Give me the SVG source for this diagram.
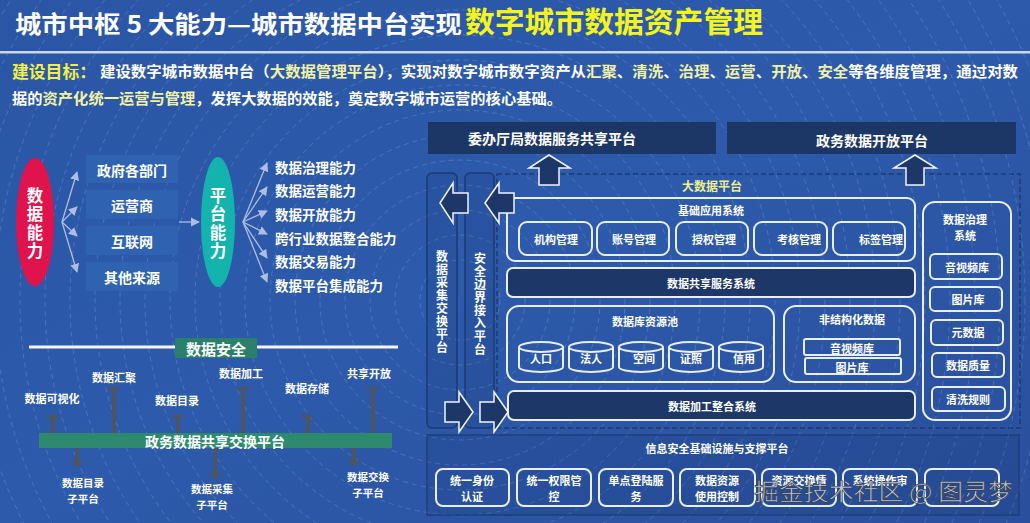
<svg xmlns="http://www.w3.org/2000/svg" width="1030" height="523" viewBox="0 0 1030 523">
<defs>
<linearGradient id="bg" x1="0" y1="0" x2="1" y2="1">
<stop offset="0" stop-color="#2b56a6"/>
<stop offset="0.5" stop-color="#2d5aab"/>
<stop offset="1" stop-color="#2a4f9c"/>
</linearGradient>
<marker id="ah" viewBox="0 0 10 10" refX="9" refY="5" markerWidth="7" markerHeight="7" orient="auto-start-reverse">
<path d="M0,0 L10,5 L0,10 z" fill="#aebde0"/>
</marker>
<style>
text{font-family:"Noto Sans CJK SC","Noto Sans",sans-serif;font-weight:bold;fill:#fff}
.c{text-anchor:middle;dominant-baseline:central}
.v{text-anchor:middle;writing-mode:vertical-rl}
.s14{font-size:14px}
.s13{font-size:13.5px}
.s12{font-size:12px}
.s11{font-size:11px}
.hl{fill:#f2f2a6}
.fan{stroke:#aebde0;stroke-width:1.3;fill:none;marker-end:url(#ah)}
.src{fill:#2f63b2}
.wb{fill:none;stroke:#e8eefa;stroke-width:2}
.navy{fill:#1c3768;stroke:#e8eefa;stroke-width:2}
.col{fill:rgba(20,40,90,0.12);stroke:#1e3a6f;stroke-width:1.5}
.arr{fill:#1c3768;stroke:#f0f4ff;stroke-width:1.5;stroke-linejoin:miter}
.stem{stroke:#4d5563;stroke-width:4}
.cap{fill:#4d5563}
.green{fill:#2d8a6e}
.deco{fill:none;stroke:#ffffff;stroke-opacity:0.2;stroke-width:0.8;stroke-dasharray:5 4}
</style>
</defs>

<rect x="0" y="0" width="1030" height="523" fill="url(#bg)"/>
<g id="decoration">
<circle class="deco" cx="460" cy="300" r="40"/><circle class="deco" cx="460" cy="300" r="65"/><circle class="deco" cx="460" cy="300" r="90"/><circle class="deco" cx="460" cy="300" r="115"/><circle class="deco" cx="460" cy="300" r="140"/><circle class="deco" cx="460" cy="300" r="165"/><circle class="deco" cx="460" cy="300" r="190"/><circle class="deco" cx="460" cy="300" r="215"/><circle class="deco" cx="460" cy="300" r="240"/><circle class="deco" cx="460" cy="300" r="265"/><circle class="deco" cx="460" cy="300" r="290"/><circle class="deco" cx="460" cy="300" r="315"/><circle class="deco" cx="460" cy="300" r="340"/><circle class="deco" cx="460" cy="300" r="365"/><circle class="deco" cx="460" cy="300" r="390"/><circle class="deco" cx="460" cy="300" r="415"/><circle class="deco" cx="460" cy="300" r="440"/><circle class="deco" cx="460" cy="300" r="465"/><circle class="deco" cx="460" cy="300" r="490"/><circle class="deco" cx="460" cy="300" r="515"/><circle class="deco" cx="460" cy="300" r="540"/><circle class="deco" cx="460" cy="300" r="565"/><circle class="deco" cx="460" cy="300" r="590"/><circle class="deco" cx="460" cy="300" r="615"/>
</g>

<g id="title">
<text x="15" y="33" font-size="24" textLength="447" lengthAdjust="spacingAndGlyphs">城市中枢 5 大能力—城市数据中台实现</text>
<text x="465" y="33" font-size="29" textLength="298" lengthAdjust="spacingAndGlyphs" style="fill:#f5f51e">数字城市数据资产管理</text>
<rect x="0" y="51" width="1030" height="2.5" fill="#c9d8f2"/>
</g>

<g id="goal">
<text x="12" y="78" font-size="17" textLength="84" lengthAdjust="spacingAndGlyphs" style="fill:#f0f04a">建设目标：</text>
<text x="100" y="77" font-size="14.5" textLength="918" lengthAdjust="spacingAndGlyphs">建设数字城市数据中台（<tspan class="hl">大数据管理平台</tspan>），实现对数字城市数字资产从<tspan class="hl">汇聚</tspan>、<tspan class="hl">清洗</tspan>、<tspan class="hl">治理</tspan>、<tspan class="hl">运营</tspan>、<tspan class="hl">开放</tspan>、<tspan class="hl">安全</tspan>等各维度管理，通过对数</text>
<text x="12" y="104" font-size="14.5" textLength="550" lengthAdjust="spacingAndGlyphs">据的<tspan class="hl">资产化统一运营与管理</tspan>，发挥大数据的效能，奠定数字城市运营的核心基础。</text>
</g>

<g id="connectors">
<line class="fan" x1="62" y1="222" x2="77" y2="172"/>
<line class="fan" x1="62" y1="222" x2="77" y2="207"/>
<line class="fan" x1="62" y1="222" x2="77" y2="236"/>
<line class="fan" x1="62" y1="222" x2="77" y2="272"/>
<line class="fan" x1="179" y1="222" x2="199" y2="222"/>
<line class="fan" x1="243" y1="222" x2="267" y2="163"/>
<line class="fan" x1="243" y1="222" x2="267" y2="187"/>
<line class="fan" x1="243" y1="222" x2="267" y2="211"/>
<line class="fan" x1="243" y1="222" x2="267" y2="234"/>
<line class="fan" x1="243" y1="222" x2="267" y2="258"/>
<line class="fan" x1="243" y1="222" x2="267" y2="282"/>
</g>

<g id="data-capability">
<ellipse cx="35" cy="222" rx="19" ry="64" fill="#e0134c"/>
<text class="v" x="35" y="224" font-size="16.5" letter-spacing="2">数据能力</text>
</g>
<g id="source-gov"><rect class="src" x="86" y="155" width="92" height="28"/><text class="c s14" x="132" y="170">政府各部门</text></g>
<g id="source-operator"><rect class="src" x="86" y="190" width="92" height="29"/><text class="c s14" x="132" y="205">运营商</text></g>
<g id="source-internet"><rect class="src" x="86" y="226" width="92" height="29"/><text class="c s14" x="132" y="241">互联网</text></g>
<g id="source-other"><rect class="src" x="86" y="262" width="92" height="29"/><text class="c s14" x="132" y="277">其他来源</text></g>

<g id="platform-capability">
<ellipse cx="218" cy="222" rx="17" ry="65" fill="#14b3ae"/>
<text class="v" x="218" y="224" font-size="16.5" letter-spacing="2">平台能力</text>
</g>
<g id="capability-list">
<text class="s13" x="275" y="167" dominant-baseline="central">数据治理能力</text>
<text class="s13" x="275" y="190" dominant-baseline="central">数据运营能力</text>
<text class="s13" x="275" y="214" dominant-baseline="central">数据开放能力</text>
<text class="s13" x="275" y="238" dominant-baseline="central">跨行业数据整合能力</text>
<text class="s13" x="275" y="261" dominant-baseline="central">数据交易能力</text>
<text class="s13" x="275" y="285" dominant-baseline="central">数据平台集成能力</text>
</g>

<g id="data-security">
<rect x="29" y="345.5" width="369" height="3" fill="#f4f6fb"/>
<rect x="175" y="338" width="82" height="20" fill="#2b806a"/>
<text class="c" x="216" y="348" font-size="15">数据安全</text>
</g>

<g id="exchange-stems">
<line class="stem" x1="53" y1="418" x2="53" y2="434"/><rect class="cap" x="47" y="415" width="12" height="3"/>
<line class="stem" x1="114" y1="390" x2="114" y2="434"/><rect class="cap" x="108" y="387" width="12" height="3"/>
<line class="stem" x1="178" y1="418" x2="178" y2="434"/><rect class="cap" x="172" y="415" width="12" height="3"/>
<line class="stem" x1="243" y1="390" x2="243" y2="434"/><rect class="cap" x="237" y="387" width="12" height="3"/>
<line class="stem" x1="308" y1="418" x2="308" y2="434"/><rect class="cap" x="302" y="415" width="12" height="3"/>
<line class="stem" x1="373" y1="390" x2="373" y2="434"/><rect class="cap" x="367" y="387" width="12" height="3"/>
<line class="stem" x1="77" y1="447" x2="77" y2="462"/><path class="cap" d="M71,461 L83,461 L77,468 z"/>
<line class="stem" x1="215" y1="447" x2="215" y2="474"/><path class="cap" d="M209,473 L221,473 L215,480 z"/>
<line class="stem" x1="354" y1="447" x2="354" y2="461"/><path class="cap" d="M348,460 L360,460 L354,467 z"/>
</g>
<g id="stage-labels">
<text class="c s11" x="52" y="398">数据可视化</text>
<text class="c s11" x="114" y="377">数据汇聚</text>
<text class="c s11" x="177" y="400">数据目录</text>
<text class="c s11" x="241" y="373">数据加工</text>
<text class="c s11" x="307" y="388">数据存储</text>
<text class="c s11" x="369" y="373">共享开放</text>
<text class="c" font-size="10.5"><tspan x="83" y="482">数据目录</tspan><tspan x="83" y="497.5">子平台</tspan></text>
<text class="c" font-size="10.5"><tspan x="212" y="488">数据采集</tspan><tspan x="212" y="503.5">子平台</tspan></text>
<text class="c" font-size="10.5"><tspan x="368" y="476">数据交换</tspan><tspan x="368" y="491.5">子平台</tspan></text>
</g>
<g id="exchange-platform">
<rect class="green" x="39" y="433" width="353" height="15"/>
<text class="c" x="215" y="441" font-size="14">政务数据共享交换平台</text>
</g>

<g id="top-platforms">
<g id="commission-share"><rect x="428" y="122" width="288" height="32" fill="#1c3666"/><text class="c s14" x="552" y="138">委办厅局数据服务共享平台</text></g>
<g id="gov-open"><rect x="727" y="122" width="289" height="32" fill="#1c3666"/><text class="c s14" x="872" y="140">政务数据开放平台</text></g>
</g>

<g id="big-data-frame">
<rect x="497" y="174" width="523" height="254" fill="none" stroke="#1e3a6f" stroke-width="1.5" stroke-dasharray="5 3"/>
<text class="c s12" x="712" y="185" style="fill:#f0f08a">大数据平台</text>
</g>

<g id="col-collect">
<rect class="col" x="427" y="173" width="30" height="255" rx="5"/>
<text class="v s12" x="442" y="302.5" letter-spacing="1">数据采集交换平台</text>
</g>
<g id="col-boundary">
<rect class="col" x="465" y="173" width="29" height="255" rx="5"/>
<text class="v s12" x="480" y="304.5" letter-spacing="1">安全边界接入平台</text>
</g>

<g id="base-apps">
<rect class="wb" x="507" y="198" width="408" height="63" rx="8"/>
<text class="c s11" x="711" y="210">基础应用系统</text>
<rect class="wb" x="519" y="222" width="73" height="33" rx="8"/><text class="c s11" x="556" y="239">机构管理</text>
<rect class="wb" x="597" y="222" width="72" height="33" rx="8"/><text class="c s11" x="634" y="239">账号管理</text>
<rect class="wb" x="676" y="222" width="72" height="33" rx="8"/><text class="c s11" x="714" y="239">授权管理</text>
<rect class="wb" x="754" y="222" width="73" height="33" rx="8"/><text class="c s11" x="799" y="239">考核管理</text>
<rect class="wb" x="833" y="222" width="72" height="33" rx="8"/><text class="c s11" x="881" y="239">标签管理</text>
</g>

<g id="share-service"><rect class="navy" x="507" y="268" width="408" height="29" rx="6"/><text class="c s11" x="711" y="283">数据共享服务系统</text></g>

<g id="db-pool">
<rect class="wb" x="507" y="306" width="267" height="76" rx="12"/>
<text class="c s11" x="645" y="321">数据库资源池</text>
<path class="wb" d="M519,347 V367 A22,5 0 0 0 563,367 V347"/><ellipse class="wb" cx="541" cy="347" rx="22" ry="5"/><text class="c s11" x="541" y="358">人口</text>
<path class="wb" d="M569,347 V367 A22,5 0 0 0 613,367 V347"/><ellipse class="wb" cx="591" cy="347" rx="22" ry="5"/><text class="c s11" x="591" y="358">法人</text>
<path class="wb" d="M619,347 V367 A22,5 0 0 0 663,367 V347"/><ellipse class="wb" cx="641" cy="347" rx="22" ry="5"/><text class="c s11" x="644" y="358">空间</text>
<path class="wb" d="M669,347 V367 A22,5 0 0 0 713,367 V347"/><ellipse class="wb" cx="691" cy="347" rx="22" ry="5"/><text class="c s11" x="691" y="358">证照</text>
<path class="wb" d="M719,347 V367 A22,5 0 0 0 763,367 V347"/><ellipse class="wb" cx="741" cy="347" rx="22" ry="5"/><text class="c s11" x="744" y="358">信用</text>
</g>

<g id="unstructured">
<rect class="wb" x="784" y="306" width="131" height="76" rx="12"/>
<text class="c s11" x="852" y="319">非结构化数据</text>
<rect class="wb" x="804" y="339" width="96" height="16" rx="2" stroke-width="1.5"/><text class="c s11" x="852" y="348">音视频库</text>
<rect class="wb" x="805" y="358" width="96" height="16" rx="2" stroke-width="1.5"/><text class="c s11" x="852" y="367">图片库</text>
</g>

<g id="process-integrate"><rect class="navy" x="508" y="391" width="407" height="29" rx="6"/><text class="c s11" x="712" y="406">数据加工整合系统</text></g>

<g id="governance">
<rect class="wb" x="923" y="202" width="88" height="218" rx="12"/>
<text class="c s11"><tspan x="965" y="219">数据治理</tspan><tspan x="965" y="235">系统</tspan></text>
<rect class="wb" x="930" y="254" width="72" height="25" rx="5"/><text class="c s11" x="967" y="267">音视频库</text>
<rect class="wb" x="930" y="287" width="72" height="24" rx="5"/><text class="c s11" x="968" y="299">图片库</text>
<rect class="wb" x="931" y="320" width="72" height="25" rx="5"/><text class="c s11" x="968" y="332">元数据</text>
<rect class="wb" x="932" y="353" width="72" height="24" rx="5"/><text class="c s11" x="968" y="365">数据质量</text>
<rect class="wb" x="932" y="387" width="73" height="24" rx="5"/><text class="c s11" x="968" y="399">清洗规则</text>
</g>

<g id="block-arrows">
<polygon class="arr" points="549,155 570,168 559,168 559,185 539,185 539,168 529,168"/>
<polygon class="arr" points="915,155 936,168 924,168 924,185 906,185 906,168 894,168"/>
<polygon class="arr" points="440,203 453,183 453,193 468,193 468,213 453,213 453,223"/>
<polygon class="arr" points="485,203 499,183 499,193 514,193 514,213 499,213 499,223"/>
<polygon class="arr" points="473,412 459,392 459,402 445,402 445,422 459,422 459,432"/>
<polygon class="arr" points="508,412 494,392 494,402 480,402 480,422 494,422 494,432"/>
</g>

<g id="security-infra">
<rect x="427" y="435" width="592" height="80" fill="rgba(20,40,90,0.12)" stroke="#1e3a6f" stroke-width="1.2"/>
<text class="c s11" x="717" y="448">信息安全基础设施与支撑平台</text>
<rect class="wb" x="436" y="469" width="73" height="37" rx="7"/><text class="c s11"><tspan x="472" y="479.5">统一身份</tspan><tspan x="472" y="495.5">认证</tspan></text>
<rect class="wb" x="517" y="469" width="74" height="37" rx="7"/><text class="c s11"><tspan x="554" y="479.5">统一权限管</tspan><tspan x="554" y="495.5">控</tspan></text>
<rect class="wb" x="599" y="469" width="74" height="37" rx="7"/><text class="c s11"><tspan x="636" y="479.5">单点登陆服</tspan><tspan x="636" y="495.5">务</tspan></text>
<rect class="wb" x="680" y="469" width="75" height="37" rx="7"/><text class="c s11"><tspan x="717" y="479.5">数据资源</tspan><tspan x="717" y="495.5">使用控制</tspan></text>
<rect class="wb" x="762" y="469" width="74" height="37" rx="7"/><text class="c s11" x="799" y="479.5">资源交换情</text>
<rect class="wb" x="843" y="469" width="74" height="37" rx="7"/><text class="c s11" x="880" y="479.5">系统操作审</text>
<rect class="wb" x="925" y="469" width="74" height="37" rx="7"/>
</g>

<g id="watermark">
<text x="754" y="500" font-size="23" textLength="259" lengthAdjust="spacingAndGlyphs" style="fill:#d8dbe2;fill-opacity:0.9;stroke:#30343c;stroke-width:0.6;font-weight:normal">掘金技术社区 @ 图灵梦</text>
</g>
</svg>
